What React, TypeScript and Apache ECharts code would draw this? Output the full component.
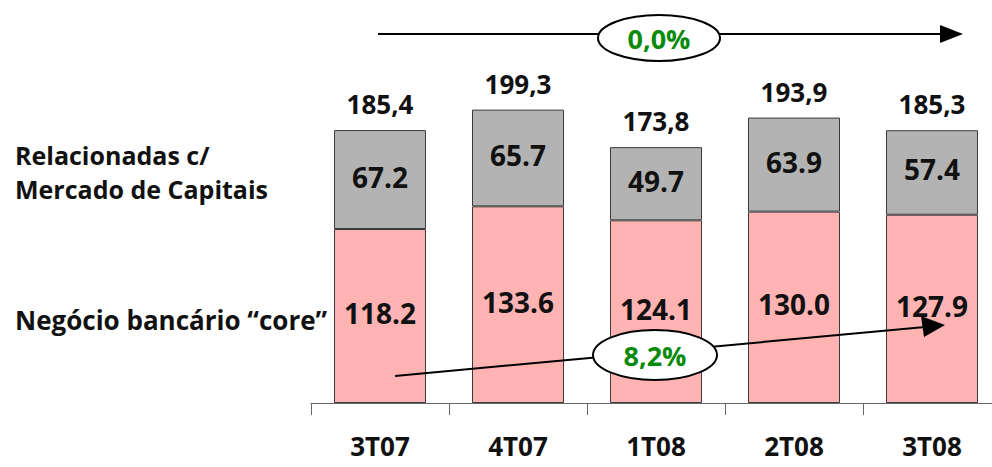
import React, { useEffect, useRef } from "react";
import * as echarts from "echarts";

const categories = ["3T07", "4T07", "1T08", "2T08", "3T08"];
const coreValues = [118.2, 133.6, 124.1, 130.0, 127.9];
const capitalValues = [67.2, 65.7, 49.7, 63.9, 57.4];
const totalLabels = ["185,4", "199,3", "173,8", "193,9", "185,3"];
const totalPlaceholder = [0, 0, 0, 0, 0];
const seriesNames = ["Negócio bancário “core”", "Relacionadas c/\nMercado de Capitais"];
const growthLabels = ["0,0%", "8,2%"];

const FONT = '"Open Sans", "DejaVu Sans", sans-serif';

export default function App() {
  const ref = useRef<HTMLDivElement>(null);
  useEffect(() => {
    if (!ref.current) return;
    const chart = echarts.init(ref.current, null, { renderer: "svg" });
    const segLabel = {
      show: true,
      position: "inside" as const,
      offset: [0, -3],
      fontFamily: FONT,
      fontWeight: "bold" as const,
      fontSize: 28,
      color: "#111",
      formatter: (p: any) => Number(p.value).toFixed(1),
    };
    const border = { borderColor: "#3a3a3a", borderWidth: 1 };
    chart.setOption({
      animation: false,
      backgroundColor: "#ffffff",
      grid: { left: 311, top: 35, width: 690, height: 368 },
      xAxis: {
        type: "category",
        data: categories,
        axisLine: { lineStyle: { color: "#666", width: 1 } },
        axisTick: { show: true, length: 12, lineStyle: { color: "#666" } },
        axisLabel: {
          margin: 30,
          fontFamily: FONT,
          fontWeight: "bold",
          fontSize: 26,
          lineHeight: 26,
          color: "#111",
        },
      },
      yAxis: { type: "value", min: 0, max: 250, show: false, splitLine: { show: false } },
      series: [
        {
          name: seriesNames[0],
          type: "bar",
          stack: "a",
          barWidth: 92,
          data: coreValues,
          itemStyle: { color: "#FFB3B3", ...border },
          label: segLabel,
        },
        {
          name: seriesNames[1],
          type: "bar",
          stack: "a",
          barWidth: 92,
          data: capitalValues,
          itemStyle: { color: "#B3B3B3", ...border },
          label: segLabel,
        },
        {
          name: "total",
          type: "bar",
          stack: "a",
          barWidth: 92,
          data: totalPlaceholder,
          itemStyle: { color: "rgba(0,0,0,0)" },
          label: {
            show: true,
            position: "top",
            distance: 13,
            fontFamily: FONT,
            fontWeight: "bold",
            fontSize: 26,
            color: "#111",
            formatter: (p: any) => totalLabels[p.dataIndex],
          },
        },
      ],
      graphic: [
        {
          type: "text",
          left: 15,
          top: 138,
          style: {
            text: seriesNames[1],
            fontFamily: FONT,
            fontWeight: "bold",
            fontSize: 25,
            lineHeight: 34,
            fill: "#111",
          },
        },
        {
          type: "text",
          left: 15,
          top: 303,
          style: {
            text: seriesNames[0],
            fontFamily: FONT,
            fontWeight: "bold",
            fontSize: 26,
            lineHeight: 34,
            fill: "#111",
          },
        },
        // top arrow
        {
          type: "line",
          shape: { x1: 378, y1: 34, x2: 945, y2: 34 },
          style: { stroke: "#000", lineWidth: 2 },
          z: 10,
        },
        {
          type: "polygon",
          shape: { points: [[940, 25], [963, 34], [940, 43]] },
          style: { fill: "#000" },
          z: 10,
        },
        {
          type: "ellipse",
          shape: { cx: 659, cy: 38, rx: 61, ry: 23 },
          style: { fill: "#fff", stroke: "#000", lineWidth: 2 },
          z: 11,
        },
        {
          type: "text",
          x: 659,
          y: 38,
          style: {
            text: growthLabels[0],
            x: 0,
            y: 0,
            align: "center",
            verticalAlign: "middle",
            fontFamily: FONT,
            fontWeight: "bold",
            fontSize: 27,
            fill: "#0a8a0a",
          },
          z: 12,
        },
        // bottom arrow
        {
          type: "line",
          shape: { x1: 395, y1: 376, x2: 925, y2: 327 },
          style: { stroke: "#000", lineWidth: 2 },
          z: 10,
        },
        {
          type: "polygon",
          shape: { points: [[921, 316], [945, 325], [924, 337]] },
          style: { fill: "#000" },
          z: 10,
        },
        {
          type: "ellipse",
          shape: { cx: 655, cy: 355, rx: 62, ry: 25 },
          style: { fill: "#fff", stroke: "#000", lineWidth: 2 },
          z: 11,
        },
        {
          type: "text",
          x: 655,
          y: 355,
          style: {
            text: growthLabels[1],
            x: 0,
            y: 0,
            align: "center",
            verticalAlign: "middle",
            fontFamily: FONT,
            fontWeight: "bold",
            fontSize: 27,
            fill: "#0a8a0a",
          },
          z: 12,
        },
      ],
    });
    return () => chart.dispose();
  }, []);
  return (
    <div style={{ position: "absolute", left: 0, top: 0, width: 992, height: 467, overflow: "hidden", background: "#fff" }}>
      <div ref={ref} style={{ width: 1010, height: 467 }} />
    </div>
  );
}
